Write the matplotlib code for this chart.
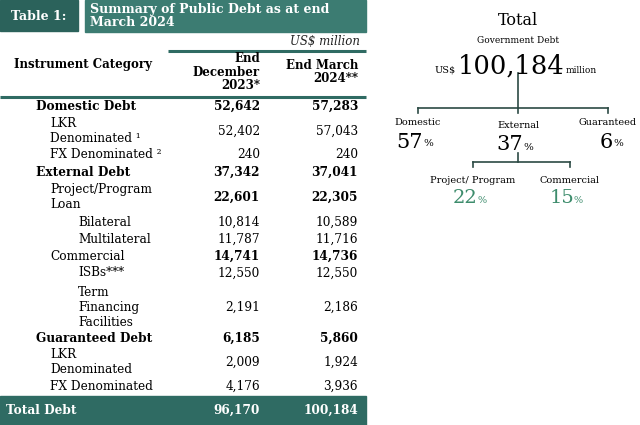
import matplotlib.pyplot as plt
from matplotlib.patches import Rectangle

plt.rcParams['font.family'] = 'DejaVu Serif'

# table rows: label, level (0 = bold head, 1, 2), dec 2023, mar 2024
labels = ["Domestic Debt", "LKR\nDenominated \u00b9", "FX Denominated \u00b2",
          "External Debt", "Project/Program\nLoan", "Bilateral", "Multilateral",
          "Commercial", "ISBs***", "Term\nFinancing\nFacilities",
          "Guaranteed Debt", "LKR\nDenominated", "FX Denominated"]
levels = [0, 1, 1, 0, 1, 2, 2, 1, 2, 2, 0, 1, 1]
bold_rows = [True, False, False, True, True, False, False, True, False, False, True, False, False]
dec_2023 = ["52,642", "52,402", "240", "37,342", "22,601", "10,814", "11,787",
            "14,741", "12,550", "2,191", "6,185", "2,009", "4,176"]
mar_2024 = ["57,283", "57,043", "240", "37,041", "22,305", "10,589", "11,716",
            "14,736", "12,550", "2,186", "5,860", "1,924", "3,936"]
total_dec, total_mar = "96,170", "100,184"

# breakdown diagram
total_debt = "100,184"
top_names = ["Domestic", "External", "Guaranteed"]
top_pct = [57, 37, 6]
ext_names = ["Project/ Program", "Commercial"]
ext_pct = [22, 15]

teal = "#2f6b63"
teal_dark = "#2b625b"
teal_light = "#3c7c72"
green = "#3d8c6c"

fig = plt.figure(figsize=(6.4, 4.25), dpi=100)
ax = fig.add_axes([0, 0, 1, 1])
ax.set_xlim(0, 640)
ax.set_ylim(425, 0)
ax.axis("off")

# title boxes
ax.add_patch(Rectangle((0, 0), 78, 31, color=teal_dark))
ax.add_patch(Rectangle((85, 0), 281, 32, color=teal_light))
ax.text(39, 16, "Table 1:", color="white", fontsize=9, fontweight="bold",
        ha="center", va="center")
ax.text(90, 16, "Summary of Public Debt as at end\nMarch 2024", color="white",
        fontsize=9, fontweight="bold", ha="left", va="center", linespacing=1.05)

ax.text(360, 41, "US$ million", fontsize=8.5, style="italic", ha="right",
        va="center", color="#222222")
ax.plot([168, 366], [51, 51], color=teal, lw=2.2, solid_capstyle="butt")

# header
ax.text(14, 64, "Instrument Category", fontsize=8.5, fontweight="bold",
        ha="left", va="center")
ax.text(260, 72, "End\nDecember\n2023*", fontsize=8.5, fontweight="bold",
        ha="right", va="center", linespacing=1.05)
ax.text(358, 72, "End March\n2024**", fontsize=8.5, fontweight="bold",
        ha="right", va="center", linespacing=1.05)
ax.plot([0, 366], [97, 97], color=teal, lw=2.2, solid_capstyle="butt")

indent = [36, 50, 78]
row_y = [106, 131, 155, 172, 197, 222, 239, 256, 273, 307, 338, 362, 386]
for lab, lev, b, d, m, y in zip(labels, levels, bold_rows, dec_2023, mar_2024, row_y):
    w = "bold" if b else "normal"
    ax.text(indent[lev], y, lab, fontsize=8.7, fontweight="bold" if lev == 0 else "normal",
            ha="left", va="center", linespacing=1.2)
    ax.text(260, y, d, fontsize=8.7, fontweight=w, ha="right", va="center")
    ax.text(358, y, m, fontsize=8.7, fontweight=w, ha="right", va="center")

ax.add_patch(Rectangle((0, 396), 366, 29, color=teal))
ax.text(6, 410, "Total Debt", color="white", fontsize=8.7, fontweight="bold",
        ha="left", va="center")
ax.text(260, 410, total_dec, color="white", fontsize=8.7, fontweight="bold",
        ha="right", va="center")
ax.text(358, 410, total_mar, color="white", fontsize=8.7, fontweight="bold",
        ha="right", va="center")

# diagram on the right
cx = 518
ax.text(cx, 20, "Total", fontsize=11.5, ha="center", va="center")
ax.text(cx, 40, "Government Debt", fontsize=6.5, ha="center", va="center")
ax.text(456, 70, "US$", fontsize=7, ha="right", va="center")
ax.text(511, 66, total_debt, fontsize=18.5, ha="center", va="center")
ax.text(566, 70, "million", fontsize=6.5, ha="left", va="center")

lc = "#2c4a44"
top_x = [418, cx, 608]
ax.plot([cx, cx], [73, 108], color=lc, lw=1.2)
ax.plot([top_x[0], top_x[-1]], [108, 108], color=lc, lw=1.2)
for x in top_x:
    ax.plot([x, x], [108, 113], color=lc, lw=1.2)
name_y = [122, 125, 122]
for x, n, p, ny in zip(top_x, top_names, top_pct, name_y):
    ax.text(x, ny, n, fontsize=7, ha="center", va="center")
    ax.text(x + 5, ny + 20, f"{p}", fontsize=15, ha="right", va="center")
    ax.text(x + 5, ny + 22, "%", fontsize=7.5, ha="left", va="center")

ext_x = [473, 570]
ax.plot([cx, cx], [153, 162], color=lc, lw=1.2)
ax.plot([ext_x[0], ext_x[-1]], [162, 162], color=lc, lw=1.2)
for x in ext_x:
    ax.plot([x, x], [162, 167], color=lc, lw=1.2)
for x, n, p in zip(ext_x, ext_names, ext_pct):
    ax.text(x, 180, n, fontsize=7, ha="center", va="center")
    ax.text(x + 4, 198, f"{p}", fontsize=14, ha="right", va="center", color=green)
    ax.text(x + 4, 200, "%", fontsize=7, ha="left", va="center", color=green)

fig.savefig("out.png", dpi=100)
